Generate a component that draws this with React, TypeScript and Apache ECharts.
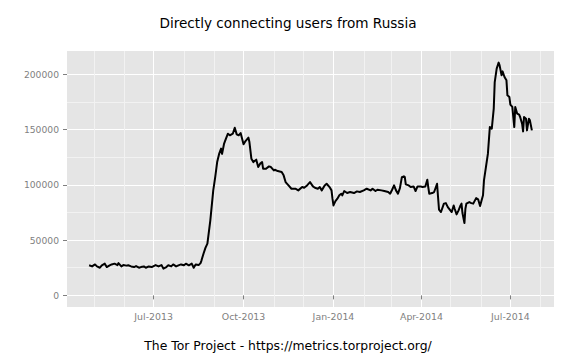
import React, { useEffect, useRef } from "react";
import * as echarts from "echarts";

const title = "Directly connecting users from Russia";
const caption = "The Tor Project - https://metrics.torproject.org/";

const dates = [
  "2013-04-26", "2013-04-29", "2013-05-02", "2013-05-04", "2013-05-07", "2013-05-09", "2013-05-12", "2013-05-14",
  "2013-05-17", "2013-05-19", "2013-05-22", "2013-05-25", "2013-05-26", "2013-05-29", "2013-05-31", "2013-06-03",
  "2013-06-05", "2013-06-08", "2013-06-11", "2013-06-13", "2013-06-16", "2013-06-18", "2013-06-21", "2013-06-23",
  "2013-06-26", "2013-06-29", "2013-07-01", "2013-07-03", "2013-07-06", "2013-07-09", "2013-07-11", "2013-07-14",
  "2013-07-16", "2013-07-19", "2013-07-21", "2013-07-24", "2013-07-27", "2013-07-29", "2013-08-01", "2013-08-03",
  "2013-08-06", "2013-08-09", "2013-08-11", "2013-08-13", "2013-08-16", "2013-08-18", "2013-08-19", "2013-08-21",
  "2013-08-23", "2013-08-25", "2013-08-28", "2013-08-31", "2013-09-02", "2013-09-04", "2013-09-06", "2013-09-08",
  "2013-09-09", "2013-09-11", "2013-09-13", "2013-09-15", "2013-09-17", "2013-09-20", "2013-09-22", "2013-09-24",
  "2013-09-26", "2013-09-28", "2013-10-01", "2013-10-03", "2013-10-06", "2013-10-07", "2013-10-09", "2013-10-11",
  "2013-10-14", "2013-10-16", "2013-10-18", "2013-10-20", "2013-10-21", "2013-10-24", "2013-10-27", "2013-10-29",
  "2013-11-01", "2013-11-02", "2013-11-05", "2013-11-09", "2013-11-11", "2013-11-13", "2013-11-16", "2013-11-19",
  "2013-11-23", "2013-11-26", "2013-11-30", "2013-12-02", "2013-12-05", "2013-12-08", "2013-12-11", "2013-12-13",
  "2013-12-16", "2013-12-18", "2013-12-20", "2013-12-23", "2013-12-25", "2013-12-28", "2013-12-30", "2013-12-31",
  "2014-01-01", "2014-01-03", "2014-01-05", "2014-01-07", "2014-01-09", "2014-01-10", "2014-01-12", "2014-01-15",
  "2014-01-18", "2014-01-22", "2014-01-25", "2014-01-28", "2014-02-01", "2014-02-04", "2014-02-08", "2014-02-10",
  "2014-02-13", "2014-02-15", "2014-02-19", "2014-02-22", "2014-02-26", "2014-02-28", "2014-03-02", "2014-03-04",
  "2014-03-06", "2014-03-08", "2014-03-10", "2014-03-12", "2014-03-14", "2014-03-15", "2014-03-16", "2014-03-19",
  "2014-03-21", "2014-03-24", "2014-03-26", "2014-03-28", "2014-03-31", "2014-04-02", "2014-04-05", "2014-04-07",
  "2014-04-08", "2014-04-09", "2014-04-12", "2014-04-14", "2014-04-17", "2014-04-18", "2014-04-19", "2014-04-21",
  "2014-04-24", "2014-04-26", "2014-04-28", "2014-04-30", "2014-05-02", "2014-05-04", "2014-05-05", "2014-05-07",
  "2014-05-09", "2014-05-11", "2014-05-12", "2014-05-13", "2014-05-15", "2014-05-16", "2014-05-17", "2014-05-20",
  "2014-05-22", "2014-05-24", "2014-05-27", "2014-05-29", "2014-05-31", "2014-06-03", "2014-06-04", "2014-06-06",
  "2014-06-08", "2014-06-10", "2014-06-12", "2014-06-14", "2014-06-15", "2014-06-17", "2014-06-19", "2014-06-20",
  "2014-06-22", "2014-06-23", "2014-06-25", "2014-06-27", "2014-06-28", "2014-06-30", "2014-07-01", "2014-07-03",
  "2014-07-05", "2014-07-06", "2014-07-08", "2014-07-10", "2014-07-11", "2014-07-13", "2014-07-14", "2014-07-15",
  "2014-07-17", "2014-07-18", "2014-07-20", "2014-07-21", "2014-07-23",
];

const users = [
  27200, 26200, 28000, 26200, 25000, 27200, 28700, 25600,
  27200, 28000, 28700, 27400, 29200, 26200, 27400, 26900,
  27200, 26200, 25600, 26500, 25000, 25600, 26200, 25000,
  26200, 25600, 26500, 27400, 26200, 27400, 24200, 25600,
  27200, 26200, 28000, 26200, 27400, 28000, 27200, 28700,
  27200, 28700, 25000, 28000, 27400, 29200, 31700, 37700,
  43000, 46800, 67900, 95000, 107000, 120600, 128000, 132800,
  128000, 137000, 141800, 146300, 144800, 146300, 151700, 145700,
  144800, 146900, 136700, 139600, 142700, 138700, 123700, 120600,
  122800, 116100, 119200, 120600, 114600, 114600, 116700, 116100,
  113100, 113700, 112500, 111600, 108600, 102500, 99500, 96500,
  96500, 95000, 98000, 97400, 99500, 102500, 98600, 97400,
  96500, 98000, 95000, 99500, 101000, 98000, 95000, 87500,
  81400, 85300, 87500, 90500, 92000, 90500, 94400, 92600,
  93500, 92600, 94100, 93500, 95000, 96500, 95000, 96500,
  94400, 95600, 95000, 94400, 93500, 92000, 95600, 99500,
  95000, 92000, 97000, 107000, 107700, 107000, 100400, 99500,
  98000, 98600, 94400, 98600, 98600, 98000, 98600, 104700,
  98000, 92000, 92600, 93500, 101000, 89000, 77600, 75400,
  83000, 83500, 79900, 77600, 75400, 81400, 78400, 73300,
  76900, 81400, 83000, 74500, 65400, 78400, 83000, 84400,
  83500, 83000, 88000, 86900, 80800, 90500, 104000, 116100,
  128000, 152300, 150800, 169000, 193000, 205200, 210600, 208100,
  199100, 202700, 197600, 194600, 181000, 179500, 172600, 170500,
  152300, 170500, 164400, 163500, 161400, 155400, 148400, 161400,
  159900, 149300, 159900, 158400, 149300,
];

const xMajorTicks = ["2013-07-01", "2013-10-01", "2014-01-01", "2014-04-01", "2014-07-01"];
const xMinorTicks = [
  "2013-05-01", "2013-06-01", "2013-08-01", "2013-09-01", "2013-11-01", "2013-12-01",
  "2014-02-01", "2014-03-01", "2014-05-01", "2014-06-01", "2014-08-01",
];
const monthNames = ["Jan", "Feb", "Mar", "Apr", "May", "Jun", "Jul", "Aug", "Sep", "Oct", "Nov", "Dec"];
const yMajorTicks = [0, 50000, 100000, 150000, 200000];
const yMinorTicks = [25000, 75000, 125000, 175000];

const toTs = (s: string) => {
  const [y, m, d] = s.split("-").map(Number);
  return Date.UTC(y, m - 1, d);
};

export default function App() {
  const ref = useRef<HTMLDivElement>(null);

  useEffect(() => {
    if (!ref.current) return;
    const chart = echarts.init(ref.current, null, { renderer: "svg" });
    const ts = dates.map(toTs);
    const xSpan = ts[ts.length - 1] - ts[0];
    const xMin = ts[0] - 0.05 * xSpan;
    const xMax = ts[ts.length - 1] + 0.05 * xSpan;
    const yTop = Math.max(...users);
    const yMin = -0.05 * yTop;
    const yMax = 1.05 * yTop;
    const font = "DejaVu Sans";
    const grey = "#7F7F7F";

    chart.setOption({
      animation: false,
      backgroundColor: "#FFFFFF",
      grid: {
        left: 67,
        right: 22,
        top: 51,
        height: 256,
        show: true,
        backgroundColor: "#E5E5E5",
        borderWidth: 0,
      },
      xAxis: [
        {
          type: "value",
          min: xMin,
          max: xMax,
          axisLine: { show: false },
          axisTick: { show: false, customValues: xMinorTicks.map(toTs) },
          axisLabel: { show: false },
          splitLine: { show: true, lineStyle: { color: "#F2F2F2", width: 1 } },
        },
        {
          type: "value",
          min: xMin,
          max: xMax,
          position: "bottom",
          axisLine: { show: false },
          axisTick: {
            show: true,
            length: 4,
            lineStyle: { color: grey, width: 1 },
            customValues: xMajorTicks.map(toTs),
          },
          axisLabel: {
            customValues: xMajorTicks.map(toTs),
            formatter: (v: number) => {
              const d = new Date(v);
              return monthNames[d.getUTCMonth()] + "-" + d.getUTCFullYear();
            },
            color: grey,
            fontSize: 9.4,
            fontFamily: font,
            margin: 5,
          },
          splitLine: { show: true, lineStyle: { color: "#FFFFFF", width: 1 } },
        },
      ],
      yAxis: [
        {
          type: "value",
          min: yMin,
          max: yMax,
          axisLine: { show: false },
          axisTick: { show: false, customValues: yMinorTicks },
          axisLabel: { show: false },
          splitLine: { show: true, lineStyle: { color: "#F2F2F2", width: 1 } },
        },
        {
          type: "value",
          min: yMin,
          max: yMax,
          position: "left",
          axisLine: { show: false },
          axisTick: {
            show: true,
            length: 4,
            lineStyle: { color: grey, width: 1 },
            customValues: yMajorTicks,
          },
          axisLabel: {
            customValues: yMajorTicks,
            formatter: (v: number) => String(v),
            color: grey,
            fontSize: 9.2,
            fontFamily: font,
            margin: 8,
          },
          splitLine: { show: true, lineStyle: { color: "#FFFFFF", width: 1 } },
        },
      ],
      graphic: [
        {
          type: "text",
          x: 288,
          y: 23,
          style: {
            text: title,
            fontSize: 13.6,
            fontFamily: font,
            fill: "#000000",
            align: "center",
            verticalAlign: "middle",
          },
        },
        {
          type: "text",
          x: 288,
          y: 345,
          style: {
            text: caption,
            fontSize: 12.4,
            fontFamily: font,
            fill: "#000000",
            align: "center",
            verticalAlign: "middle",
          },
        },
      ],
      series: [
        {
          type: "line",
          xAxisIndex: 1,
          yAxisIndex: 1,
          data: ts.map((t, i) => [t, users[i]]),
          showSymbol: false,
          symbol: "none",
          lineStyle: { color: "#000000", width: 2, join: "round" },
          z: 5,
        },
      ],
    });
    return () => chart.dispose();
  }, []);

  return (
    <div
      ref={ref}
      style={{ position: "fixed", left: 0, top: 0, width: 576, height: 360 }}
    />
  );
}
